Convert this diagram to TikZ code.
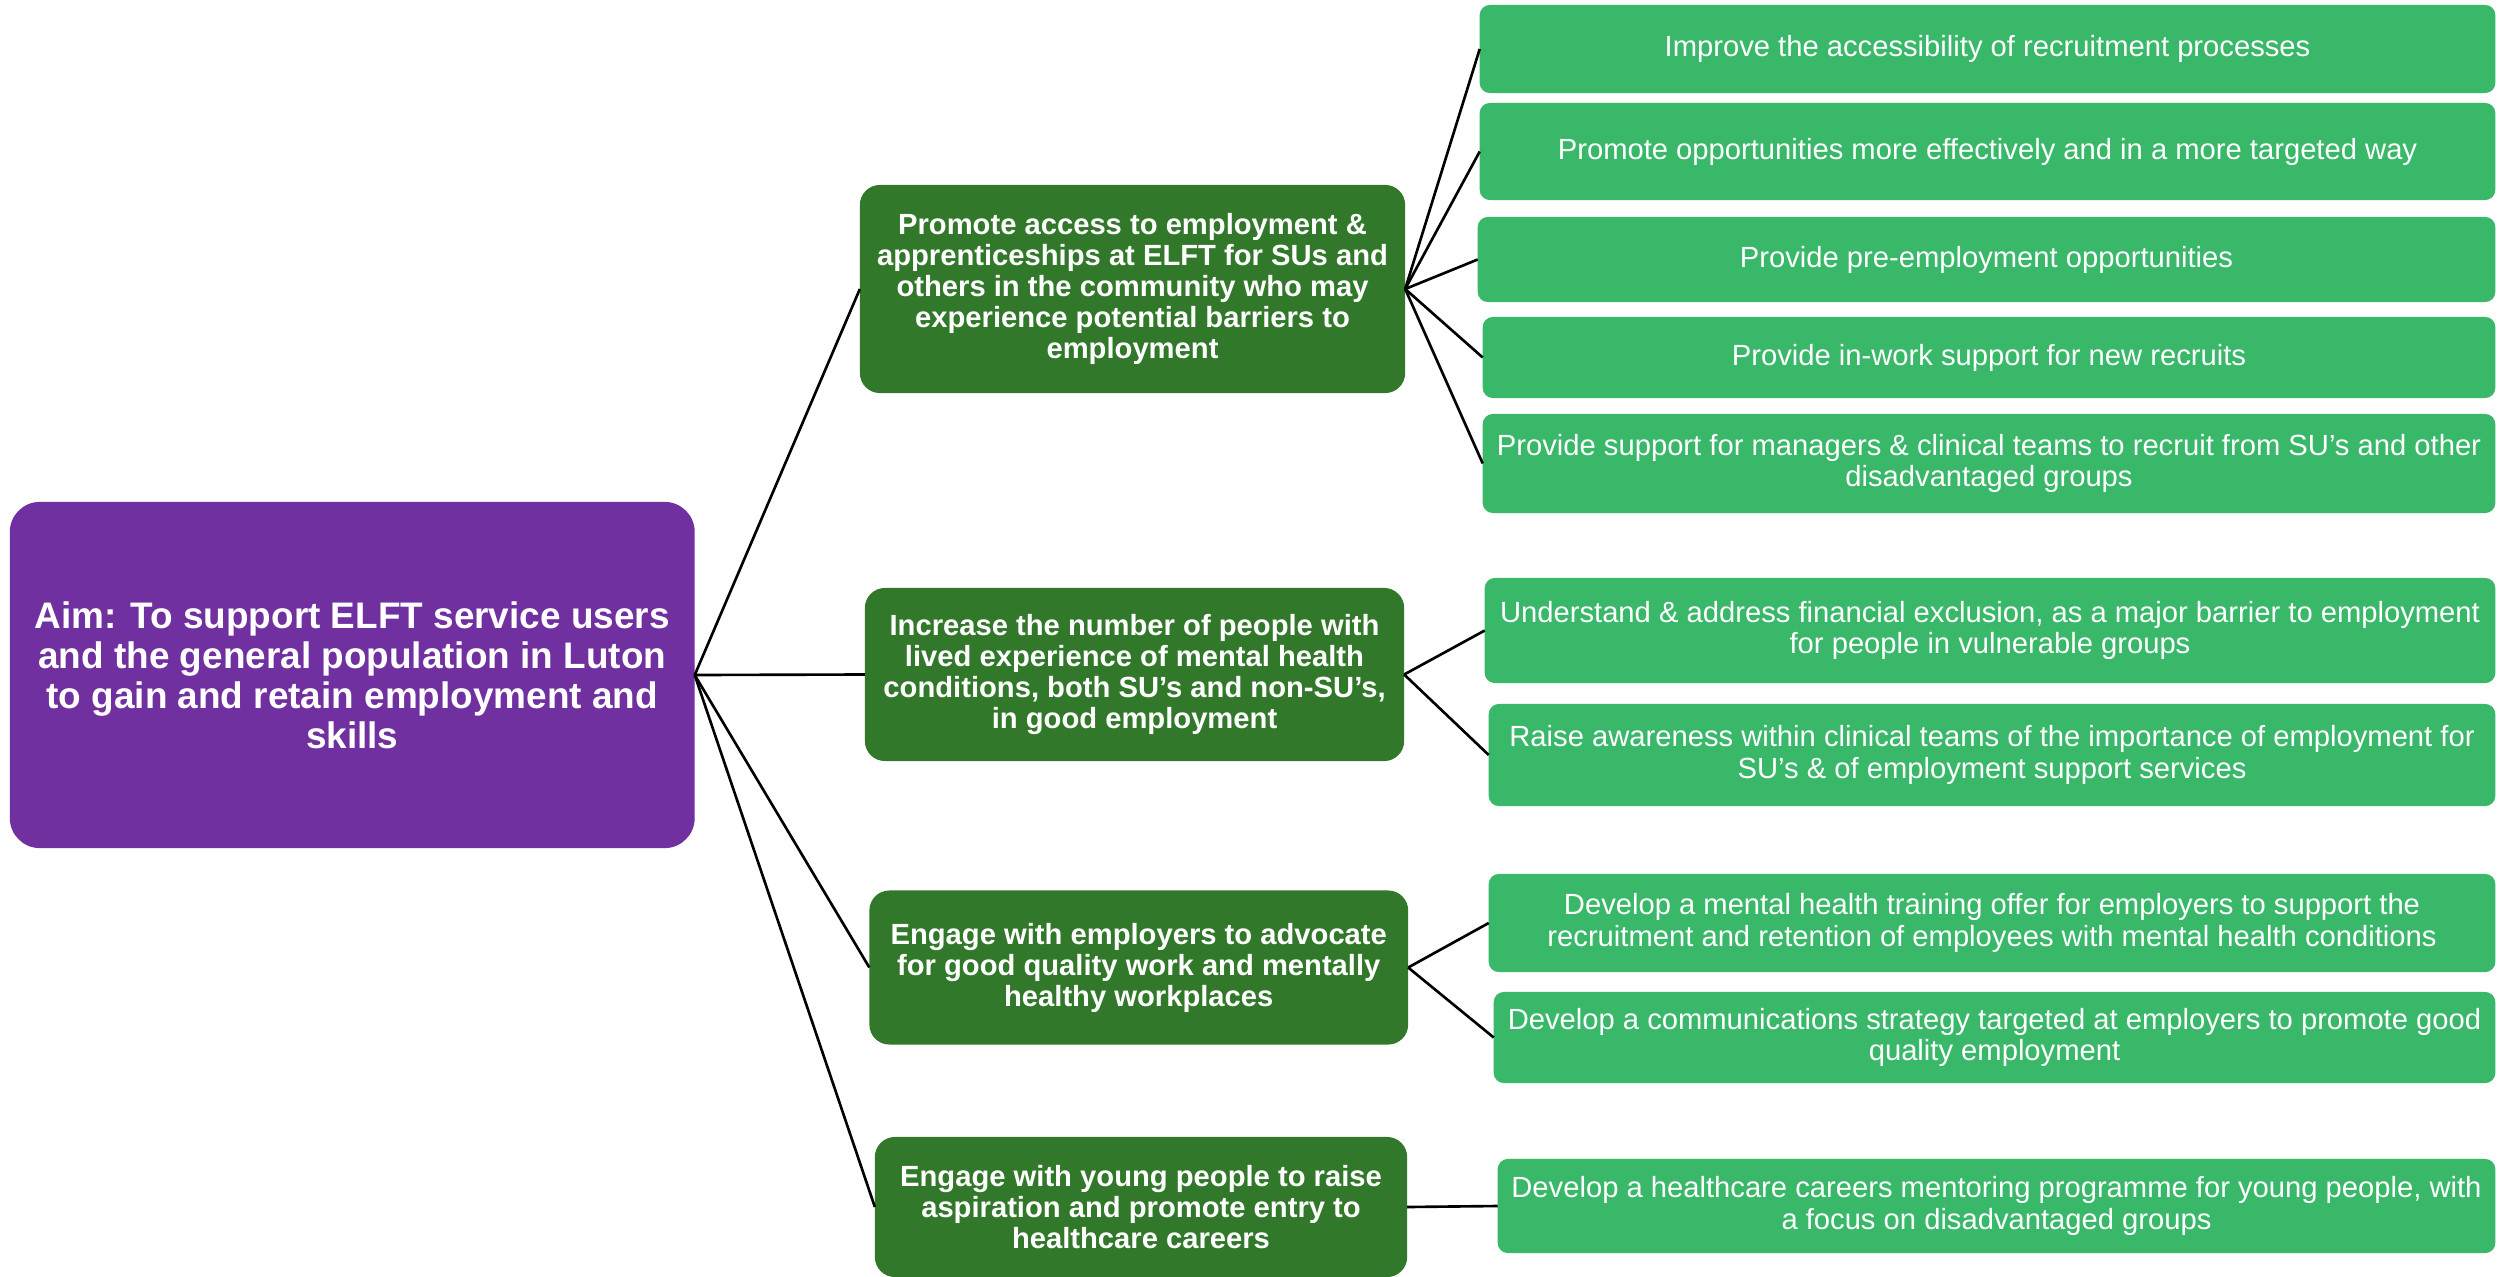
\documentclass[tikz,border=0pt]{standalone}
\usepackage{fontspec}
\setmainfont{Liberation Sans}
\definecolor{aimpurple}{HTML}{7030A0}
\definecolor{darkgr}{HTML}{32782A}
\definecolor{lightgr}{HTML}{39B86A}
\begin{document}
\begin{tikzpicture}[x=0.01cm,y=-0.01cm,
  base/.style={inner sep=0pt, outer sep=0pt, align=center, text=white},
  aimbox/.style={base, fill=aimpurple, rounded corners=3mm, font=\fontsize{10.5}{11.4}\selectfont\bfseries},
  midbox/.style={base, fill=darkgr, rounded corners=2mm, font=\fontsize{8.3}{8.8}\selectfont\bfseries},
  leafbox/.style={base, fill=lightgr, rounded corners=1mm, font=\fontsize{8.3}{8.9}\selectfont},
  conn/.style={draw=black, line width=0.75pt}]
\useasboundingbox (0,0) rectangle (2498,1276);

\node[aimbox, minimum width=68.45mm, minimum height=34.6mm] (aim) at (352.25,675)
  {Aim: To support ELFT service users\\and the general population in Luton\\to gain and retain employment and\\skills};

\node[midbox, minimum width=54.5mm, minimum height=20.8mm] (m1) at (1132.5,289)
  {Promote access to employment \&\\apprenticeships at ELFT for SUs and\\others in the community who may\\experience potential barriers to\\employment};
\node[midbox, minimum width=53.9mm, minimum height=17.3mm] (m2) at (1134.5,674.5)
  {Increase the number of people with\\lived experience of mental health\\conditions, both SU’s and non-SU’s,\\in good employment};
\node[midbox, minimum width=53.85mm, minimum height=15.4mm] (m3) at (1138.75,967.5)
  {Engage with employers to advocate\\for good quality work and mentally\\healthy workplaces};
\node[midbox, minimum width=53.2mm, minimum height=14.0mm] (m4) at (1141,1207)
  {Engage with young people to raise\\aspiration and promote entry to\\healthcare careers};

\node[leafbox, minimum width=101.5mm, minimum height=8.8mm] (l1) at (1987.5,49)
  {Improve the accessibility of recruitment processes};
\node[leafbox, minimum width=101.5mm, minimum height=9.7mm] (l2) at (1987.5,151.5)
  {Promote opportunities more effectively and in a more targeted way};
\node[leafbox, minimum width=101.7mm, minimum height=8.5mm] (l3) at (1986.5,259.5)
  {Provide pre-employment opportunities};
\node[leafbox, minimum width=101.2mm, minimum height=8.1mm] (l4) at (1989,357.5)
  {Provide in-work support for new recruits};
\node[leafbox, minimum width=101.2mm, minimum height=9.9mm] (l5) at (1989,463.5)
  {Provide support for managers \& clinical teams to recruit from SU’s and other\\disadvantaged groups};
\node[leafbox, minimum width=101.0mm, minimum height=10.5mm] (l6) at (1990,630.5)
  {Understand \& address financial exclusion, as a major barrier to employment\\for people in vulnerable groups};
\node[leafbox, minimum width=100.6mm, minimum height=10.2mm] (l7) at (1992,755)
  {Raise awareness within clinical teams of the importance of employment for\\SU’s \& of employment support services};
\node[leafbox, minimum width=100.6mm, minimum height=9.8mm] (l8) at (1992,923)
  {Develop a mental health training offer for employers to support the\\recruitment and retention of employees with mental health conditions};
\node[leafbox, minimum width=100.1mm, minimum height=9.1mm] (l9) at (1994.5,1037.5)
  {Develop a communications strategy targeted at employers to promote good\\quality employment};
\node[leafbox, minimum width=99.7mm, minimum height=9.4mm] (l10) at (1996.5,1206)
  {Develop a healthcare careers mentoring programme for young people, with\\a focus on disadvantaged groups};

\foreach \m in {m1,m2,m3,m4} \draw[conn] (aim.east) -- (\m.west);
\foreach \l in {l1,l2,l3,l4,l5} \draw[conn] (m1.east) -- (\l.west);
\foreach \l in {l6,l7} \draw[conn] (m2.east) -- (\l.west);
\foreach \l in {l8,l9} \draw[conn] (m3.east) -- (\l.west);
\draw[conn] (m4.east) -- (l10.west);
\end{tikzpicture}
\end{document}
